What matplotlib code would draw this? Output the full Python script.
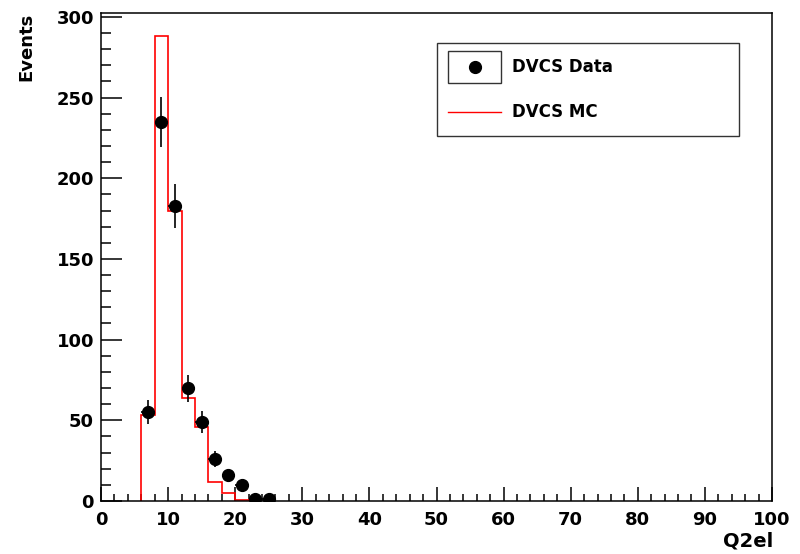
import matplotlib

matplotlib.use("Agg")

import matplotlib.pyplot as plt
import numpy as np
from matplotlib.lines import Line2D
from matplotlib.patches import Rectangle
from matplotlib.ticker import MultipleLocator


# Q2el histogram, bins of width 2
bin_edges = np.arange(6, 24, 2)
mc_counts = [53, 288, 180, 64, 46, 12, 4.8, 0.6]

data_centers = [7, 9, 11, 13, 15, 17, 19, 21, 23, 25]
data_counts = [55, 235, 183, 70, 49, 26, 16, 10, 1, 1]

W, H = 800, 554
FONT = "DejaVu Sans"


def px(x, y):
    # pixel position (from top-left) -> figure fraction
    return x / W, 1 - y / H


fig = plt.figure(figsize=(8, 5.54), dpi=100)
fig.patch.set_facecolor("white")
ax = fig.add_axes([101 / W, 1 - 501 / H, (772 - 101) / W, (501 - 13) / H])

ax.stairs(mc_counts, bin_edges, baseline=0, color="red", linewidth=1.2, zorder=2)

data_counts = np.array(data_counts, dtype=float)
ax.errorbar(
    data_centers,
    data_counts,
    xerr=1,
    yerr=np.sqrt(data_counts),
    fmt="o",
    color="black",
    markersize=8.5,
    elinewidth=1.2,
    capsize=0,
    zorder=3,
)

ax.set_xlim(0, 100)
ax.set_ylim(0, max(mc_counts) * 1.05)

ax.xaxis.set_major_locator(MultipleLocator(10))
ax.xaxis.set_minor_locator(MultipleLocator(2))
ax.yaxis.set_major_locator(MultipleLocator(50))
ax.yaxis.set_minor_locator(MultipleLocator(10))

ax.tick_params(axis="x", which="major", direction="in", length=10, width=1.1, pad=7)
ax.tick_params(axis="x", which="minor", direction="in", length=5, width=1.1)
ax.tick_params(axis="y", which="major", direction="in", length=15, width=1.1, pad=5)
ax.tick_params(axis="y", which="minor", direction="in", length=7.5, width=1.1)
ax.tick_params(top=False, right=False, which="both")

for lab in ax.get_xticklabels() + ax.get_yticklabels():
    lab.set_fontfamily(FONT)
    lab.set_fontweight("bold")
    lab.set_fontsize(13)

for spine in ax.spines.values():
    spine.set_linewidth(1.1)

fig.text(*px(773, 541), "Q2el", ha="right", va="center",
         fontsize=14, fontweight="bold", family=FONT)
fig.text(*px(26, 13), "Events", ha="center", va="top", rotation=90,
         fontsize=13, fontweight="bold", family=FONT)

# legend
x0, y0 = px(437, 136)
x1, y1 = px(739, 43)
fig.patches.append(Rectangle((x0, y0), x1 - x0, y1 - y0, transform=fig.transFigure,
                             fill=False, edgecolor="#333333", linewidth=1.0))
bx0, by0 = px(448, 83)
bx1, by1 = px(501, 51)
fig.patches.append(Rectangle((bx0, by0), bx1 - bx0, by1 - by0, transform=fig.transFigure,
                             fill=False, edgecolor="#333333", linewidth=1.0))
fig.lines.append(Line2D([px(475, 67)[0]], [px(475, 67)[1]], transform=fig.transFigure,
                        marker="o", color="black", markersize=8.5))
lx0, ly = px(448, 112)
lx1, _ = px(501, 112)
fig.lines.append(Line2D([lx0, lx1], [ly, ly], transform=fig.transFigure,
                        color="red", linewidth=1.0))
fig.text(*px(512, 67), "DVCS Data", ha="left", va="center",
         fontsize=12, fontweight="bold", family=FONT)
fig.text(*px(512, 112), "DVCS MC", ha="left", va="center",
         fontsize=12, fontweight="bold", family=FONT)

fig.savefig("out.png", dpi=100, facecolor="white")
